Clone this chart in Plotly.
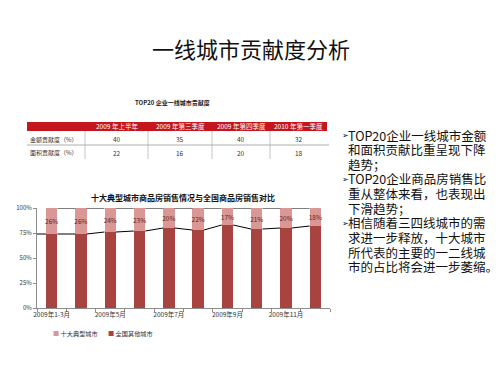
import plotly.graph_objects as go

W, H = 500, 375
def px(x): return x / W
def py(y): return 1 - y / H

# ---------------- data ----------------
categories = ["2009年1-3月", "2009年4月", "2009年5月", "2009年6月", "2009年7月",
              "2009年8月", "2009年9月", "2009年10月", "2009年11月", "2009年12月"]
tick_labels = ["2009年1-3月", "", "2009年5月", "", "2009年7月", "", "2009年9月", "", "2009年11月", ""]
top10_share = [26, 26, 24, 23, 20, 22, 17, 21, 20, 18]      # 十大典型城市
other_share = [74, 74, 76, 77, 80, 78, 83, 79, 80, 82]      # 全国其他城市
y_ticks = [0, 25, 50, 75, 100]
y_tick_labels = ["0%", "25%", "50%", "75%", "100%"]

table_title = "TOP20 企业一线城市贡献度"
table_headers = ["2009 年上半年", "2009 年第三季度", "2009 年第四季度", "2010 年第一季度"]
row_labels = ["金额贡献度（%）", "面积贡献度（%）"]
amount_contrib = [40, 35, 40, 32]
area_contrib = [22, 16, 20, 18]

page_title = "一线城市贡献度分析"
chart_title = "十大典型城市商品房销售情况与全国商品房销售对比"
bullet_lines = [
    (True, "TOP20企业一线城市金额"),
    (False, "和面积贡献比重呈现下降"),
    (False, "趋势；"),
    (True, "TOP20企业商品房销售比"),
    (False, "重从整体来看，也表现出"),
    (False, "下滑趋势；"),
    (True, "相信随着三四线城市的需"),
    (False, "求进一步释放，十大城市"),
    (False, "所代表的主要的一二线城"),
    (False, "市的占比将会进一步萎缩。"),
]

# ---------------- style ----------------
CJK = "Noto Sans CJK SC"
DARK = "#A8433F"
LIGHT = "#D99795"
BAR_W = 0.39

xs = list(range(len(categories)))
totals = [a + b for a, b in zip(other_share, top10_share)]

# series lines (edge to edge between bars)
def series_line(vals, lead=False):
    lx, ly = [], []
    if lead:
        lx += [-0.5, -BAR_W / 2, None]
        ly += [vals[0], vals[0], None]
    for i in range(len(vals) - 1):
        lx += [xs[i] + BAR_W / 2, xs[i + 1] - BAR_W / 2, None]
        ly += [vals[i], vals[i + 1], None]
    return lx, ly

fig = go.Figure()

fig.add_trace(go.Bar(
    x=xs, y=other_share, width=BAR_W, marker=dict(color=DARK, line=dict(width=0)),
    name="全国其他城市", showlegend=False, hoverinfo="skip"))
fig.add_trace(go.Bar(
    x=xs, y=top10_share, width=BAR_W, marker=dict(color=LIGHT, line=dict(width=0)),
    name="十大典型城市", showlegend=False, hoverinfo="skip",
    text=[f"{v}%" for v in top10_share], textposition="inside",
    insidetextanchor="middle", constraintext="none", textangle=0,
    textfont=dict(size=6.5, color="#6a2424", family=CJK)))

lx, ly = series_line(other_share, lead=True)
fig.add_trace(go.Scatter(x=lx, y=ly, mode="lines", line=dict(color="black", width=1),
                         showlegend=False, hoverinfo="skip", connectgaps=False))
lx, ly = series_line(totals)
fig.add_trace(go.Scatter(x=lx, y=ly, mode="lines", line=dict(color="black", width=1),
                         showlegend=False, hoverinfo="skip", connectgaps=False))

fig.update_layout(
    width=W, height=H,
    margin=dict(l=0, r=0, t=0, b=0, autoexpand=False),
    paper_bgcolor="white", plot_bgcolor="white",
    barmode="stack",
    font=dict(family=CJK, color="#222"),
    xaxis=dict(domain=[px(37), px(330)], range=[-0.5, len(categories) - 0.5],
               tickvals=xs, ticktext=tick_labels, ticks="", showgrid=False, zeroline=False,
               showline=True, linecolor="#8c8c8c", linewidth=1,
               tickfont=dict(size=6.5, color="#333", family=CJK),
               minor=dict(tickvals=[i - 0.5 for i in range(len(categories) + 1)],
                          ticks="outside", ticklen=3, tickcolor="#8c8c8c", showgrid=False)),
    yaxis=dict(domain=[py(308), py(208)], range=[0, 100], tickvals=y_ticks,
               ticktext=y_tick_labels,
               ticks="outside", ticklen=3, tickcolor="#8c8c8c", showgrid=False, zeroline=False,
               showline=True, linecolor="#8c8c8c", linewidth=1,
               tickfont=dict(size=6, color="#333", family=CJK)),
)

ann = []
shapes = []

def text_at(x, y, text, size, color="#222", xanchor="center", yanchor="middle", family=CJK):
    ann.append(dict(x=px(x), y=py(y), xref="paper", yref="paper", text=text,
                    xanchor=xanchor, yanchor=yanchor, showarrow=False,
                    font=dict(size=size, color=color, family=family)))

# page title
text_at(251, 48, page_title, 22, "#111")

# table
text_at(172, 103, f"<b>{table_title}</b>", 6, "#222")
shapes.append(dict(type="rect", xref="paper", yref="paper", x0=px(27), x1=px(327),
                   y0=py(131), y1=py(122), fillcolor="#C4161C", line=dict(width=0)))
shapes.append(dict(type="line", xref="paper", yref="paper", x0=px(27), x1=px(329),
                   y0=py(145), y1=py(145), line=dict(color="#9a9a9a", width=0.8)))
col_edges = [85, 148, 212, 270, 327]
for xe in col_edges[:-1]:
    shapes.append(dict(type="line", xref="paper", yref="paper", x0=px(xe), x1=px(xe),
                       y0=py(131), y1=py(159), line=dict(color="#b5b5b5", width=0.8)))
for j, hdr in enumerate(table_headers):
    cx = (col_edges[j] + col_edges[j + 1]) / 2
    text_at(cx, 126.5, hdr, 6.5, "white")
    for ry, vals in ((139, amount_contrib), (152.5, area_contrib)):
        text_at(cx, ry, str(vals[j]), 6.5, "#333")
for ry, lab in zip((139, 152.5), row_labels):
    text_at(28, ry, lab, 6, "#333", xanchor="left")

# chart title
text_at(183, 197, f"<b>{chart_title}</b>", 8, "#111")

# legend
text_at(51, 333, f"<span style='color:{LIGHT}'>■</span> 十大典型城市", 6.2, "#333", xanchor="left")
text_at(106, 333, f"<span style='color:{DARK}'>■</span> 全国其他城市", 6.2, "#333", xanchor="left")

# right-hand bullet text
for i, (is_bullet, line) in enumerate(bullet_lines):
    yy = 135 + i * 14.63
    if is_bullet:
        text_at(340, yy + 0.5, "➢", 8, "#111", xanchor="left", family="DejaVu Sans")
    text_at(346, yy, line, 12.5, "#111", xanchor="left")

fig.update_layout(annotations=ann, shapes=shapes)
fig.write_html("out.html", config={"displayModeBar": False},
               post_script="document.body.style.margin='0';")
